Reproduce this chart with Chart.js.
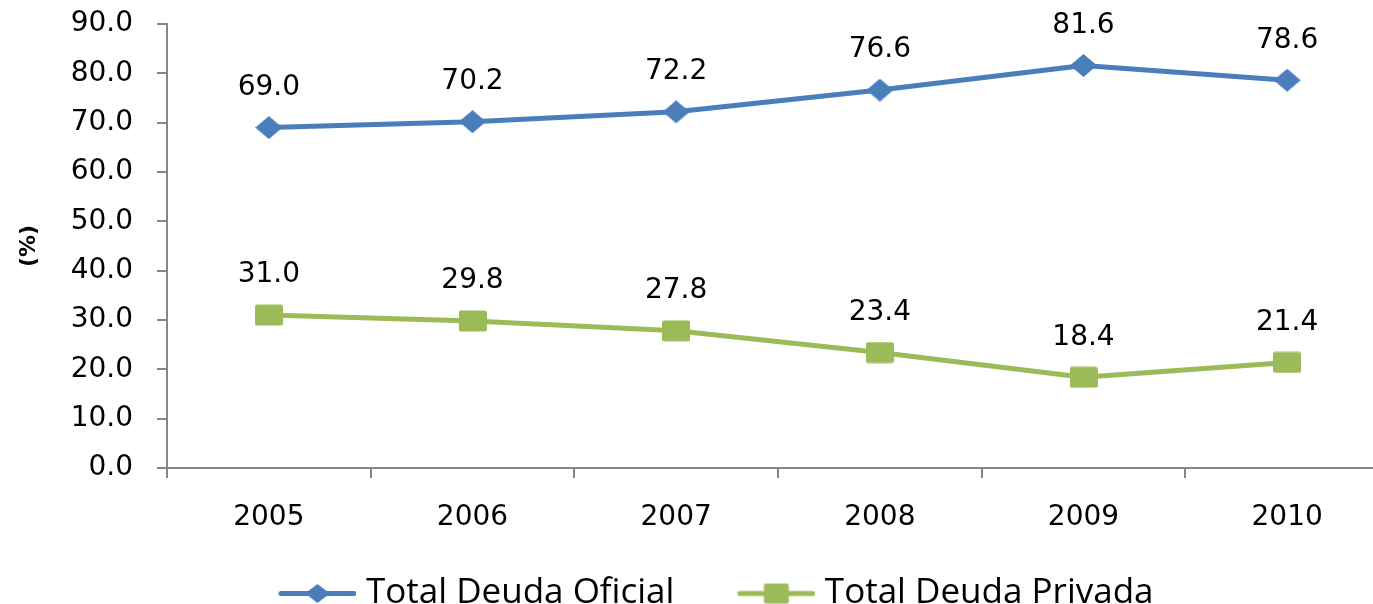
<!DOCTYPE html>
<html>
<head>
<meta charset="utf-8">
<script src="https://cdn.jsdelivr.net/npm/chart.js@4.4.1/dist/chart.umd.min.js"></script>
<style>
  html, body { margin: 0; padding: 0; background: #fff; overflow: hidden; }
  #wrap { position: relative; width: 1432px; height: 621px; }
</style>
</head>
<body>
<div id="wrap"><canvas id="deudaChart"></canvas></div>
<script>
// data
const years = ['2005', '2006', '2007', '2008', '2009', '2010'];
const deudaOficial = [69.0, 70.2, 72.2, 76.6, 81.6, 78.6];
const deudaPrivada = [31.0, 29.8, 27.8, 23.4, 18.4, 21.4];
const seriesNames = ['Total Deuda Oficial', 'Total Deuda Privada'];
const yMin = 0, yMax = 90, yStep = 10;

const BLUE = '#4A7EBB';
const GREEN = '#9BBB59';
const AXIS = '#868686';
const LEG_BOX = 93; // legend box width (line sits at its right end)

// marker images (diamond / square); legend version has the line through it
function makeMark(kind, color, legend) {
    const w = legend ? LEG_BOX + 16 : (kind === 'diamond' ? 27 : 28);
    const h = kind === 'diamond' ? 23 : 22;
    const c = document.createElement('canvas');
    c.width = w; c.height = h;
    const g = c.getContext('2d');
    g.fillStyle = color;
    g.strokeStyle = color;
    let cx = w / 2;
    const cy = h / 2;
    if (legend) {
        const x0 = w - 78;
        cx = x0 + 39;
        g.lineWidth = 5;
        g.lineCap = 'round';
        g.beginPath(); g.moveTo(x0 + 2.5, cy); g.lineTo(w - 2.5, cy); g.stroke();
    }
    if (kind === 'diamond') {
        const mw = legend ? 25 : 27, mh = legend ? 19 : 23;
        g.beginPath();
        g.moveTo(cx - mw / 2, cy); g.lineTo(cx, cy - mh / 2);
        g.lineTo(cx + mw / 2, cy); g.lineTo(cx, cy + mh / 2);
        g.closePath(); g.fill();
    } else {
        const mw = legend ? 25 : 28, mh = legend ? 20 : 21;
        g.beginPath();
        g.roundRect(cx - mw / 2, cy - mh / 2, mw, mh, 2);
        g.fill();
    }
    return c;
}

const pointMarks = [makeMark('diamond', BLUE), makeMark('square', GREEN)];
const legendMarks = [makeMark('diamond', BLUE, true), makeMark('square', GREEN, true)];

// value labels above every point
const valueLabels = {
    id: 'valueLabels',
    afterDatasetsDraw(chart) {
        const ctx = chart.ctx;
        ctx.save();
        ctx.font = '28px "DejaVu Sans"';
        ctx.fillStyle = '#000';
        ctx.textAlign = 'center';
        ctx.textBaseline = 'middle';
        chart.data.datasets.forEach((ds, i) => {
            chart.getDatasetMeta(i).data.forEach((pt, j) => {
                ctx.fillText(ds.data[j].toFixed(1), pt.x, pt.y - 40);
            });
        });
        ctx.restore();
    }
};

const ctx = document.getElementById('deudaChart').getContext('2d');
new Chart(ctx, {
    type: 'line',
    data: {
        labels: years,
        datasets: [
            { label: seriesNames[0], data: deudaOficial, borderColor: BLUE, backgroundColor: BLUE,
              borderWidth: 5, pointStyle: pointMarks[0], borderJoinStyle: 'round', borderCapStyle: 'round', tension: 0 },
            { label: seriesNames[1], data: deudaPrivada, borderColor: GREEN, backgroundColor: GREEN,
              borderWidth: 5, pointStyle: pointMarks[1], borderJoinStyle: 'round', borderCapStyle: 'round', tension: 0 }
        ]
    },
    options: {
        responsive: true,
        maintainAspectRatio: false,
        animation: false,
        layout: { padding: { top: 24, left: 20, right: 43, bottom: 0 } },
        plugins: {
            tooltip: { enabled: false },
            legend: {
                position: 'bottom',
                labels: {
                    usePointStyle: true,
                    pointStyleWidth: LEG_BOX,
                    padding: 40,
                    color: '#000',
                    font: { family: '"Open Sans"', size: 35 },
                    generateLabels: (chart) => Chart.defaults.plugins.legend.labels.generateLabels(chart)
                        .map((l, i) => Object.assign(l, { pointStyle: legendMarks[i] }))
                }
            }
        },
        scales: {
            x: {
                offset: true,
                grid: { offset: true, drawOnChartArea: false, tickLength: 10, color: AXIS, lineWidth: 2 },
                border: { color: AXIS, width: 2 },
                ticks: { color: '#000', font: { family: '"DejaVu Sans"', size: 28, lineHeight: 1 }, padding: 26, maxRotation: 0 },
                afterFit: (s) => { s.height = 68; }
            },
            y: {
                min: yMin, max: yMax,
                grid: { drawOnChartArea: false, tickLength: 10, color: AXIS, lineWidth: 2 },
                border: { color: AXIS, width: 2 },
                ticks: { stepSize: yStep, color: '#000', padding: 24,
                         font: { family: '"DejaVu Sans"', size: 28 },
                         callback: (v) => v.toFixed(1) },
                title: { display: true, text: '(%)', color: '#000',
                         font: { family: '"DejaVu Sans"', size: 22, weight: 'bold' },
                         padding: { top: -4, bottom: 0 } },
                afterFit: (s) => { s.width = 147; s.paddingTop = 10; s.paddingBottom = 10; }
            }
        }
    },
    plugins: [valueLabels]
});
</script>
</body>
</html>
